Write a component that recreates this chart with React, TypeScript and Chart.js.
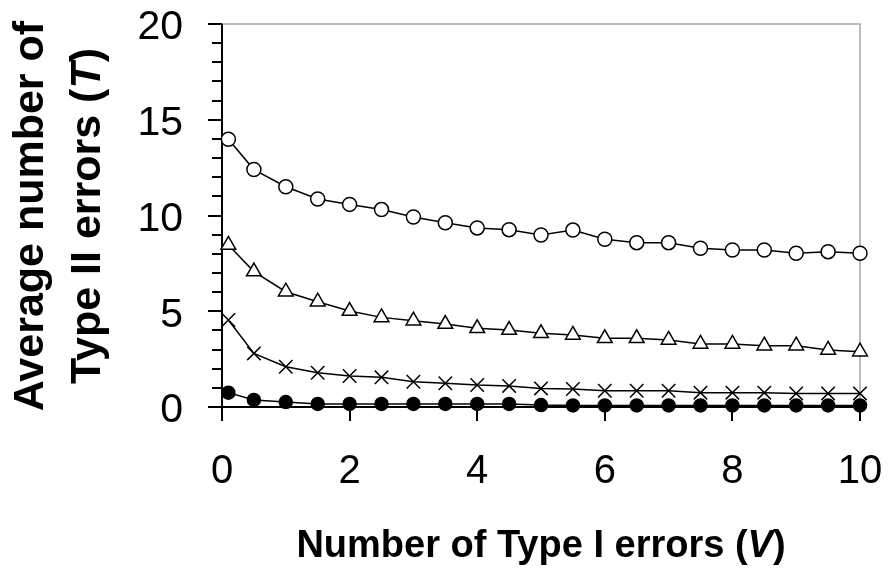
import React, { useEffect, useRef } from "react";
import { Chart, registerables } from "chart.js";

Chart.register(...registerables);

const xValues = [0.1, 0.5, 1, 1.5, 2, 2.5, 3, 3.5, 4, 4.5, 5, 5.5, 6, 6.5, 7, 7.5, 8, 8.5, 9, 9.5, 10];
const openCircleSeries = [13.98, 12.4, 11.5, 10.86, 10.58, 10.31, 9.92, 9.62, 9.35, 9.26, 8.98, 9.24, 8.76, 8.58, 8.58, 8.29, 8.2, 8.2, 8.03, 8.11, 8.03];
const triangleSeries = [8.46, 7.07, 6.02, 5.5, 5.01, 4.68, 4.51, 4.33, 4.11, 4.02, 3.85, 3.76, 3.59, 3.59, 3.5, 3.29, 3.29, 3.2, 3.2, 2.98, 2.89];
const crossSeries = [4.54, 2.8, 2.1, 1.79, 1.62, 1.55, 1.32, 1.24, 1.15, 1.1, 0.97, 0.94, 0.85, 0.85, 0.85, 0.75, 0.75, 0.75, 0.71, 0.71, 0.71];
const filledCircleSeries = [0.75, 0.37, 0.26, 0.16, 0.16, 0.16, 0.16, 0.16, 0.16, 0.16, 0.1, 0.08, 0.08, 0.08, 0.08, 0.08, 0.08, 0.08, 0.08, 0.08, 0.08];

const xMin = 0;
const xMax = 10;
const xStep = 2;
const yMin = 0;
const yMax = 20;
const yStep = 5;
const yMinorStep = 1;

const FONT = "'Liberation Sans', Arial, Helvetica, sans-serif";

const toPoints = (ys: number[]) => xValues.map((x, i) => ({ x, y: ys[i] }));

const frameTicksPlugin = {
  id: "frameTicks",
  beforeDatasetsDraw(chart: any) {
    const { ctx, chartArea: a, scales } = chart;
    const xs = scales.x;
    const ys = scales.y;
    ctx.save();
    // grey top/right border
    ctx.strokeStyle = "#a6a6a6";
    ctx.lineWidth = 1.5;
    ctx.beginPath();
    ctx.moveTo(a.left, a.top);
    ctx.lineTo(a.right, a.top);
    ctx.lineTo(a.right, a.bottom);
    ctx.stroke();
    // black axes
    ctx.strokeStyle = "#000";
    ctx.lineWidth = 2;
    ctx.beginPath();
    ctx.moveTo(a.left, a.top);
    ctx.lineTo(a.left, a.bottom + 14);
    ctx.moveTo(a.left - 14, a.bottom);
    ctx.lineTo(a.right, a.bottom);
    ctx.stroke();
    // y ticks (minor every 1, major every 5)
    ctx.beginPath();
    for (let v = yMin; v <= yMax + 1e-9; v += yMinorStep) {
      const py = Math.round(ys.getPixelForValue(v));
      const len = Math.abs(v % yStep) < 1e-9 ? 14 : 10;
      ctx.moveTo(a.left - len, py);
      ctx.lineTo(a.left, py);
    }
    // x ticks
    for (let v = xMin; v <= xMax + 1e-9; v += xStep) {
      const px = Math.round(xs.getPixelForValue(v));
      ctx.moveTo(px, a.bottom);
      ctx.lineTo(px, a.bottom + 14);
    }
    ctx.stroke();
    ctx.restore();
  },
};

export default function App() {
  const canvasRef = useRef<HTMLCanvasElement | null>(null);

  useEffect(() => {
    const canvas = canvasRef.current;
    if (!canvas) return;
    const common = {
      borderColor: "#000",
      borderWidth: 1.5,
      pointBorderColor: "#000",
      pointBorderWidth: 1.5,
      tension: 0,
      clip: false as any,
      showLine: true,
    };
    const chart = new Chart(canvas, {
      type: "scatter",
      data: {
        datasets: [
          {
            ...common,
            data: toPoints(openCircleSeries),
            pointStyle: "circle",
            pointRadius: 7,
            pointBackgroundColor: "#fff",
          },
          {
            ...common,
            data: toPoints(triangleSeries),
            pointStyle: "triangle",
            pointRadius: 8.5,
            pointBackgroundColor: "#fff",
          },
          {
            ...common,
            data: toPoints(crossSeries),
            pointStyle: "crossRot",
            pointRadius: 9.5,
            pointBackgroundColor: "#000",
          },
          {
            ...common,
            data: toPoints(filledCircleSeries),
            pointStyle: "circle",
            pointRadius: 6.5,
            pointBackgroundColor: "#000",
          },
        ],
      },
      options: {
        animation: false,
        responsive: false,
        devicePixelRatio: 1,
        layout: { padding: { top: 24, right: 28, left: 0, bottom: 0 } },
        plugins: {
          legend: { display: false },
          tooltip: { enabled: false },
        },
        scales: {
          x: {
            type: "linear",
            min: xMin,
            max: xMax,
            grid: { display: false, drawTicks: false },
            border: { display: false },
            ticks: {
              stepSize: xStep,
              color: "#000",
              padding: 41,
              maxRotation: 0,
              font: { family: FONT, size: 40 },
            },
            afterFit: (s: any) => {
              s.height = 162;
              s.paddingLeft = 0;
              s.paddingRight = 0;
              s.paddingTop = 0;
              s.paddingBottom = 0;
            },
          },
          y: {
            type: "linear",
            min: yMin,
            max: yMax,
            grid: { display: false, drawTicks: false },
            border: { display: false },
            ticks: {
              stepSize: yStep,
              color: "#000",
              padding: 39,
              labelOffset: 4,
              font: { family: FONT, size: 41 },
            },
            afterFit: (s: any) => {
              s.width = 222;
              s.paddingLeft = 0;
              s.paddingRight = 0;
              s.paddingTop = 0;
              s.paddingBottom = 0;
            },
          },
        },
      },
      plugins: [frameTicksPlugin],
    });
    return () => chart.destroy();
  }, []);

  return (
    <div
      style={{
        position: "absolute",
        left: 0,
        top: 0,
        width: 888,
        height: 569,
        background: "#fff",
        overflow: "hidden",
      }}
    >
      <canvas ref={canvasRef} width={888} height={569} style={{ width: 888, height: 569, display: "block" }} />
      <div
        style={{
          position: "absolute",
          left: 57.4 - 220,
          top: 215.5 - 57,
          width: 440,
          height: 114,
          lineHeight: "57px",
          fontFamily: FONT,
          fontWeight: "bold",
          fontSize: 43,
          textAlign: "center",
          whiteSpace: "nowrap",
          color: "#000",
          transform: "rotate(-90deg)",
        }}
      >
        <div>Average number of</div>
        <div>
          Type II errors (<i>T</i>)
        </div>
      </div>
      <div
        style={{
          position: "absolute",
          left: 222,
          top: 525,
          width: 638,
          lineHeight: 1,
          fontFamily: FONT,
          fontWeight: "bold",
          fontSize: 38,
          textAlign: "center",
          whiteSpace: "nowrap",
          color: "#000",
        }}
      >
        Number of Type I errors (<i>V</i>)
      </div>
    </div>
  );
}
